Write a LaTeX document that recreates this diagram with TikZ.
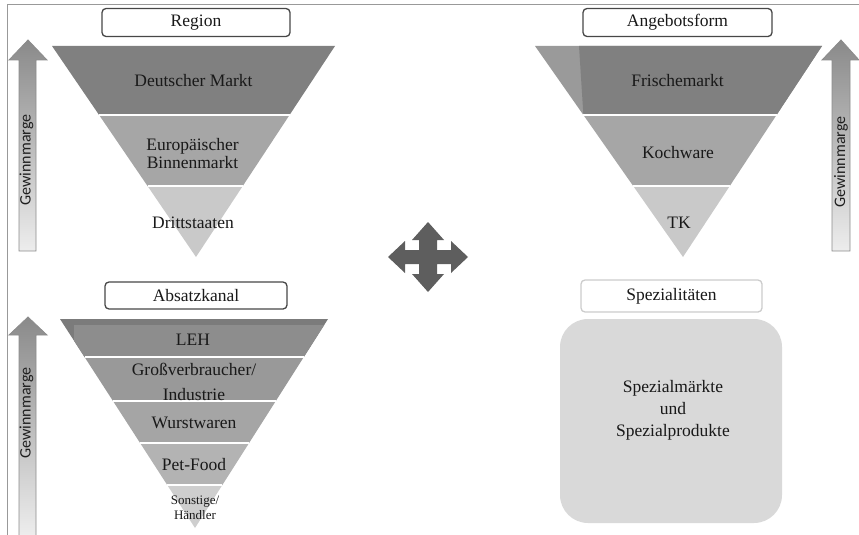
\documentclass[tikz,border=0pt]{standalone}
\usepackage{fontspec}
\setmainfont{Liberation Serif}
\newfontfamily\margefont{Carlito}
\usepackage{tikz}
\usetikzlibrary{calc}
\definecolor{bandA}{HTML}{808080}
\definecolor{bandB}{HTML}{A6A6A6}
\definecolor{bandC}{HTML}{C9C9C9}
\definecolor{sliver}{HTML}{9A9A9A}
\definecolor{kanalTop}{HTML}{7B7B7B}
\definecolor{kanalA}{HTML}{8D8D8D}
\definecolor{kanalB}{HTML}{999999}
\definecolor{kanalC}{HTML}{A5A5A5}
\definecolor{kanalD}{HTML}{B3B3B3}
\definecolor{kanalE}{HTML}{CECECE}
\definecolor{kreuz}{HTML}{5E5E5E}
\definecolor{spezfill}{HTML}{D9D9D9}
\tikzstyle{heading}=[draw=black!72,line width=1.3pt,rounded corners=4pt,fill=white,inner sep=0pt,minimum height=28pt,font=\fontsize{17.5}{19}\selectfont,text=black!90]
\tikzstyle{bandtext}=[align=center,inner sep=0pt,font=\fontsize{17.5}{18}\selectfont,text=black!90]
\tikzstyle{marge}=[top color=black!46,bottom color=black!7,draw=black!45,line width=0.8pt]
\tikzstyle{margetext}=[rotate=90,inner sep=0pt,font=\margefont\fontsize{16}{17}\selectfont,text=black!88]
\tikzstyle{cut}=[white,line width=2pt]

\begin{document}
\begin{tikzpicture}[x=1pt,y=-1pt]
\useasboundingbox (0,0) rectangle (859,535);
\draw[black!40,line width=1pt] (7,535) -- (7,5) -- (859,5);

% Region
\coordinate (rl) at (52,46);
\coordinate (rr) at (335,46);
\coordinate (ra) at (196,257);
\foreach \a/\b/\c in {0/0.327/bandA,0.327/0.664/bandB,0.664/1/bandC}
  \fill[\c] ($(rl)!\a!(ra)$) -- ($(rr)!\a!(ra)$) -- ($(rr)!\b!(ra)$) -- ($(rl)!\b!(ra)$) -- cycle;
\foreach \a in {0.327,0.664}
  \draw[cut] ($(rl)!\a!(ra)$) -- ($(rr)!\a!(ra)$);
\node[heading,minimum width=188pt] (region) at (196,22.5) {Region};
\node[bandtext] (deutsch) at (193.5,81) {Deutscher Markt};
\node[bandtext] (europa) at (192.5,154) {Europäischer\\Binnenmarkt};
\node[bandtext] (dritt) at (193,222.5) {Drittstaaten};
\shadedraw[marge] (19,251) -- (19,60) -- (9,60) -- (28,40) -- (47,60) -- (36,60) -- (36,251) -- cycle;
\node[margetext] (margeR) at (26.5,160) {Gewinnmarge};

% Angebotsform
\coordinate (al) at (535,46);
\coordinate (ar) at (822,46);
\coordinate (aa) at (683,257);
\foreach \a/\b/\c in {0/0.327/sliver,0.327/0.664/bandB,0.664/1/bandC}
  \fill[\c] ($(al)!\a!(aa)$) -- ($(ar)!\a!(aa)$) -- ($(ar)!\b!(aa)$) -- ($(al)!\b!(aa)$) -- cycle;
\fill[bandA] (579,46) -- (ar) -- ($(ar)!0.327!(aa)$) -- ($(al)!0.327!(aa)$) -- cycle;
\foreach \a in {0.327,0.664}
  \draw[cut] ($(al)!\a!(aa)$) -- ($(ar)!\a!(aa)$);
\node[heading,minimum width=189pt] (angebot) at (677.5,22.5) {Angebotsform};
\node[bandtext] (frisch) at (677.5,81) {Frischemarkt};
\node[bandtext] (koch) at (678,153) {Kochware};
\node[bandtext] (tk) at (679,222.5) {TK};
\shadedraw[marge] (832,251) -- (832,60) -- (822,60) -- (841,40) -- (859,60) -- (850,60) -- (850,251) -- cycle;
\node[margetext] (margeA) at (841,162) {Gewinnmarge};

% Absatzkanal
\coordinate (kl) at (60,319);
\coordinate (kr) at (328,319);
\coordinate (ka) at (195,528);
\foreach \a/\b/\c in {0/0.182/kanalTop,0.182/0.392/kanalB,0.392/0.593/kanalC,0.593/0.794/kanalD,0.794/1/kanalE}
  \fill[\c] ($(kl)!\a!(ka)$) -- ($(kr)!\a!(ka)$) -- ($(kr)!\b!(ka)$) -- ($(kl)!\b!(ka)$) -- cycle;
\fill[kanalA] (74,325) -- ($(kr)!0.029!(ka)$) -- ($(kr)!0.182!(ka)$) -- ($(kl)!0.182!(ka)$) -- ($(kl)!0.104!(ka)$) -- cycle;
\foreach \a in {0.182,0.392,0.593,0.794}
  \draw[cut] ($(kl)!\a!(ka)$) -- ($(kr)!\a!(ka)$);
\node[heading,minimum width=182pt,minimum height=27pt] (absatz) at (196,295.5) {Absatzkanal};
\node[bandtext] (leh) at (193,340) {LEH};
\node[bandtext,font=\fontsize{17.5}{25}\selectfont] (gross) at (194,381.5) {Großverbraucher/\\Industrie};
\node[bandtext] (wurst) at (194,423) {Wurstwaren};
\node[bandtext] (pet) at (194,464.5) {Pet-Food};
\node[bandtext,font=\fontsize{13}{15}\selectfont] (sonst) at (195,507.5) {Sonstige/\\Händler};
\shadedraw[marge] (19,535) -- (19,335) -- (9,335) -- (28,317) -- (47,335) -- (36,335) -- (36,535);
\node[margetext] (margeK) at (26.5,413) {Gewinnmarge};

% Spezialitaeten
\fill[spezfill,rounded corners=28pt] (560,319) rectangle (782,523);
\node[heading,draw=black!20,minimum width=181pt,minimum height=32pt] (spezhead) at (671.5,296) {Spezialitäten};
\node[bandtext,font=\fontsize{17.5}{22}\selectfont] (spez) at (673,410) {Spezialmärkte\\und\\Spezialprodukte};

% Kreuzpfeil
\fill[kreuz,shift={(428,257)}] (0,-35) -- (16,-17) -- (9,-17) -- (9,-7) -- (23,-7) -- (23,-16) -- (40,0) -- (23,16) -- (23,7) -- (9,7) -- (9,17) -- (16,17) -- (0,35) -- (-16,17) -- (-9,17) -- (-9,7) -- (-23,7) -- (-23,16) -- (-40,0) -- (-23,-16) -- (-23,-7) -- (-9,-7) -- (-9,-17) -- (-16,-17) -- cycle;
\end{tikzpicture}
\end{document}
